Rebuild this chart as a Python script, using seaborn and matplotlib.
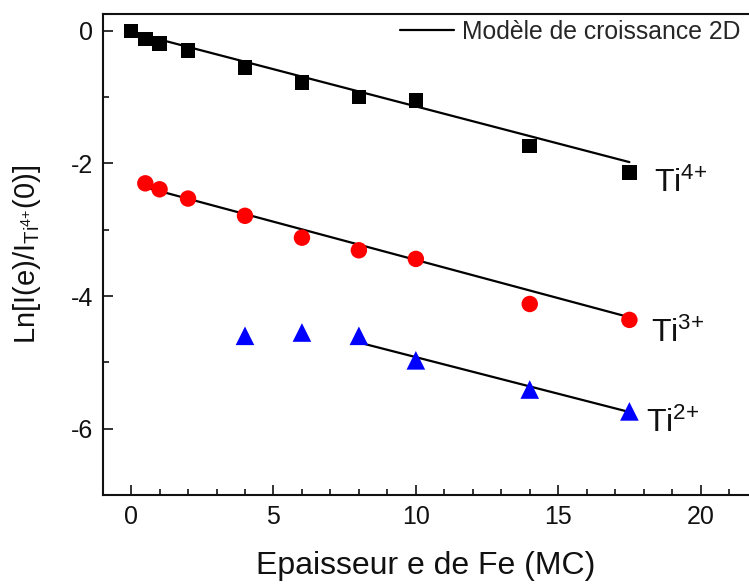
import numpy as np
import pandas as pd
import matplotlib
matplotlib.use("Agg")
import matplotlib.pyplot as plt
import seaborn as sns

# ---- data ----
ti4_x = [0, 0.5, 1, 2, 4, 6, 8, 10, 14, 17.5]
ti4_y = [0.0, -0.12, -0.19, -0.30, -0.55, -0.78, -1.00, -1.05, -1.74, -2.14]

ti3_x = [0.5, 1, 2, 4, 6, 8, 10, 14, 17.5]
ti3_y = [-2.30, -2.39, -2.53, -2.79, -3.12, -3.31, -3.44, -4.12, -4.36]

ti2_x = [4, 6, 8, 10, 14, 17.5]
ti2_y = [-4.60, -4.55, -4.60, -4.97, -5.41, -5.74]

# 2D growth model fit lines (start/end points)
fit_names = ["Ti4+", "Ti3+", "Ti2+"]
fit_x0 = [1.0, 0.5, 7.9]
fit_x1 = [17.5, 17.5, 17.5]
fit_y0 = [-0.13, -2.36, -4.69]
fit_y1 = [-1.98, -4.32, -5.75]

ion_labels = [r"Ti$^{4{+}}$", r"Ti$^{3{+}}$", r"Ti$^{2{+}}$"]
ion_label_x = [18.35, 18.25, 18.1]
ion_label_y = [-2.43, -4.70, -6.05]

legend_label = "Modèle de croissance 2D"
x_label = "Epaisseur e de Fe (MC)"
y_label = r"Ln[I(e)/I$_{\mathregular{Ti^{4{+}}}}$(0)]"
x_ticks = [0, 5, 10, 15, 20]
y_ticks = [0, -2, -4, -6]

# ---- style ----
sns.set_theme(style="ticks")
plt.rcParams["font.family"] = ["Liberation Sans", "DejaVu Sans"]
plt.rcParams["mathtext.fontset"] = "custom"
plt.rcParams["mathtext.rm"] = "Liberation Sans"
plt.rcParams["mathtext.it"] = "Liberation Sans"
plt.rcParams["mathtext.default"] = "regular"
plt.rcParams["axes.unicode_minus"] = False

fig = plt.figure(figsize=(7.49, 5.85), dpi=100)
ax = fig.add_axes([0.137, 0.154, 0.863, 0.8216])

# fit lines
fit_rows = []
for n, xa, xb, ya, yb in zip(fit_names, fit_x0, fit_x1, fit_y0, fit_y1):
    fit_rows.append({"ion": n, "x": xa, "y": ya})
    fit_rows.append({"ion": n, "x": xb, "y": yb})
fit_df = pd.DataFrame(fit_rows)
for i, n in enumerate(fit_names):
    sub = fit_df[fit_df["ion"] == n]
    sns.lineplot(data=sub, x="x", y="y", ax=ax, color="black", linewidth=1.6,
                 label=legend_label if i == 0 else None, sort=False, zorder=2)

# data points
sns.scatterplot(x=ti4_x, y=ti4_y, ax=ax, marker="s", s=110, color="black",
                edgecolor="none", zorder=3)
sns.scatterplot(x=ti3_x, y=ti3_y, ax=ax, marker="o", s=140, color="#ff0000",
                edgecolor="none", zorder=3)
sns.scatterplot(x=ti2_x, y=ti2_y, ax=ax, marker="^", s=180, color="#0000ff",
                edgecolor="none", zorder=3)

for t, tx, ty in zip(ion_labels, ion_label_x, ion_label_y):
    ax.text(tx, ty, t, fontsize=23, ha="left", va="baseline", color="#111111")

ax.set_xlim(-1, 21.7)
ax.set_ylim(-6.5, 0.25)
ax.set_xticks(x_ticks)
ax.set_yticks(y_ticks)
ax.set_xticks(np.arange(-1, 22, 1), minor=True)
ax.set_yticks(np.arange(-7, 1, 1), minor=True)
ax.tick_params(axis="both", which="major", direction="in", length=7.5, width=1.2,
               labelsize=18, colors="#111111", pad=7)
ax.tick_params(axis="both", which="minor", direction="in", length=4, width=1.2,
               colors="#111111")
ax.set_xlabel(x_label, fontsize=23, labelpad=16, color="#111111")
ax.set_ylabel(y_label, fontsize=21, labelpad=20, color="#111111")

for side in ["left", "bottom", "top"]:
    ax.spines[side].set_linewidth(1.5)
    ax.spines[side].set_color("#111111")
ax.spines["right"].set_visible(False)

leg = ax.legend(loc="center left", bbox_to_anchor=(0.46, 0.963), frameon=False,
                fontsize=17.8, handlelength=2.2, handletextpad=0.3,
                borderpad=0, borderaxespad=0)

fig.savefig("out.png", dpi=100)
